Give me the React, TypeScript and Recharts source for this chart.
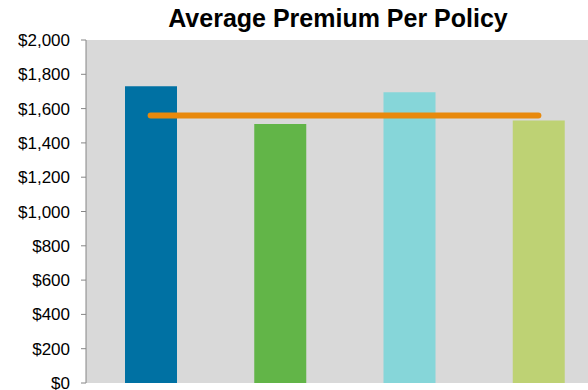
import { Bar, Cell, CartesianGrid, ComposedChart, Line, XAxis, YAxis } from "recharts";

const categories = ["Group A", "Group B", "Group C", "Group D"];
const premiums = [1730, 1510, 1695, 1530];
const averagePremium = [1560, 1560, 1560, 1560];
const yTicks = [0, 200, 400, 600, 800, 1000, 1200, 1400, 1600, 1800, 2000];

const barColors = ["#0071a3", "#62b548", "#86d6d9", "#bed274"];

const data = categories.map((name, i) => ({
  name,
  premium: premiums[i],
  average: averagePremium[i],
}));

const fontFamily = '"Liberation Sans", Arial, Helvetica, sans-serif';

const money = (v: number) => `$${v.toLocaleString("en-US")}`;

export default function App() {
  return (
    <div
      style={{
        position: "absolute",
        left: 0,
        top: 0,
        width: 588,
        height: 390,
        overflow: "hidden",
        background: "#fff",
        fontFamily,
      }}
    >
      <div
        style={{
          position: "absolute",
          left: 338,
          top: 6,
          transform: "translateX(-50%)",
          whiteSpace: "nowrap",
          fontSize: 25,
          lineHeight: "25px",
          fontWeight: 700,
          color: "#000",
        }}
      >
        Average Premium Per Policy
      </div>
      <ComposedChart
        width={603}
        height={390}
        data={data}
        margin={{ top: 40, right: 0, bottom: 7, left: 0 }}
      >
        <CartesianGrid fill="#d9d9d9" stroke="none" horizontal={false} vertical={false} />
        <XAxis dataKey="name" hide />
        <YAxis
          width={86}
          domain={[0, 2000]}
          ticks={yTicks}
          interval={0}
          tickFormatter={money}
          tickSize={5}
          tickMargin={11}
          axisLine={{ stroke: "#868686" }}
          tickLine={{ stroke: "#868686" }}
          tick={{ fill: "#000", fontSize: 17, fontFamily }}
        />
        <Bar dataKey="premium" barSize={52} isAnimationActive={false}>
          {data.map((d, i) => (
            <Cell key={d.name} fill={barColors[i]} />
          ))}
        </Bar>
        <Line
          dataKey="average"
          stroke="#e8890c"
          strokeWidth={6}
          strokeLinecap="round"
          dot={false}
          activeDot={false}
          isAnimationActive={false}
        />
      </ComposedChart>
    </div>
  );
}
